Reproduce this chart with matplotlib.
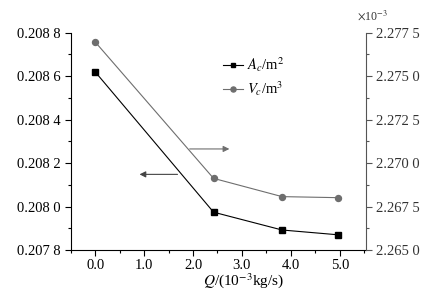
import matplotlib
matplotlib.use('Agg')
import matplotlib.pyplot as plt
from matplotlib.ticker import FixedLocator, MultipleLocator

plt.rcParams['font.family'] = 'Liberation Serif'
plt.rcParams['mathtext.fontset'] = 'stix'

# data
q = [0.0, 2.42, 3.82, 4.96]
area = [0.20862, 0.207974, 0.207892, 0.20787]
volume = [2.27697, 2.26912, 2.26807, 2.26801]

left_ticks = [0.2078, 0.2080, 0.2082, 0.2084, 0.2086, 0.2088]
left_labels = ['0.207 8', '0.208 0', '0.208 2', '0.208 4', '0.208 6', '0.208 8']
right_ticks = [2.2650, 2.2675, 2.2700, 2.2725, 2.2750, 2.2775]
right_labels = ['2.265 0', '2.267 5', '2.270 0', '2.272 5', '2.275 0', '2.277 5']
x_ticks = [0, 1, 2, 3, 4, 5]
x_labels = ['0.0', '1.0', '2.0', '3.0', '4.0', '5.0']

c_area = 'black'
c_vol = '#6e6e6e'

fig = plt.figure(figsize=(4.3, 3.0), dpi=100)
ax = fig.add_axes([0.1644, 0.1667, 0.6861, 0.7243])
ax2 = ax.twinx()

l1, = ax.plot(q, area, color=c_area, marker='s', ms=3.8, lw=0.8, label=r'$A_c$/m$^2$')
l2, = ax2.plot(q, volume, color=c_vol, marker='o', ms=4.3, lw=0.8, label=r'$V_c$/m$^3$')

ax.set_xlim(-0.5, 5.53)
ax.set_ylim(0.2078, 0.2088)
ax2.set_ylim(2.2650, 2.2775)

ax.xaxis.set_major_locator(FixedLocator(x_ticks))
ax.set_xticklabels(x_labels)
ax.xaxis.set_minor_locator(MultipleLocator(0.5))
ax.yaxis.set_major_locator(FixedLocator(left_ticks))
ax.set_yticklabels(left_labels)
ax.yaxis.set_minor_locator(MultipleLocator(0.0001))
ax2.yaxis.set_major_locator(FixedLocator(right_ticks))
ax2.set_yticklabels(right_labels)
ax2.yaxis.set_minor_locator(MultipleLocator(0.00125))

for a in (ax, ax2):
    a.spines['top'].set_visible(False)
    a.tick_params(which='major', direction='out', length=4, width=0.8, labelsize=10.5)
    a.tick_params(which='minor', direction='out', length=2, width=0.8)
ax.tick_params(axis='x', pad=2.5)
ax.spines['right'].set_visible(False)
ax2.spines['left'].set_visible(False)
ax2.spines['bottom'].set_visible(False)
ax2.spines['right'].set_color('#555555')
ax2.tick_params(which='both', color='#555555', labelcolor='#333333')

fig.text(0.83, 0.925, r'$\times$10$^{-3}$', fontsize=8.5, ha='left', va='bottom', color='#333333')
fig.text(0.567, 0.035, r'$Q$/(10$^{-3}$kg/s)', fontsize=11, ha='center', va='bottom')

ax.annotate('', xy=(2.80, 0.208265), xytext=(1.875, 0.208265),
            arrowprops=dict(arrowstyle='-|>', color=c_vol, lw=0.8, mutation_scale=9))
ax.annotate('', xy=(0.85, 0.208148), xytext=(1.74, 0.208148),
            arrowprops=dict(arrowstyle='-|>', color='#444444', lw=0.8, mutation_scale=9))

ax.legend(handles=[l1, l2], loc='upper left', bbox_to_anchor=(0.49, 0.93), frameon=False,
          handlelength=1.4, handletextpad=0.3, fontsize=10.5, labelspacing=0.35, borderpad=0,
          markerscale=0.85)

fig.savefig('out.png', dpi=100)
